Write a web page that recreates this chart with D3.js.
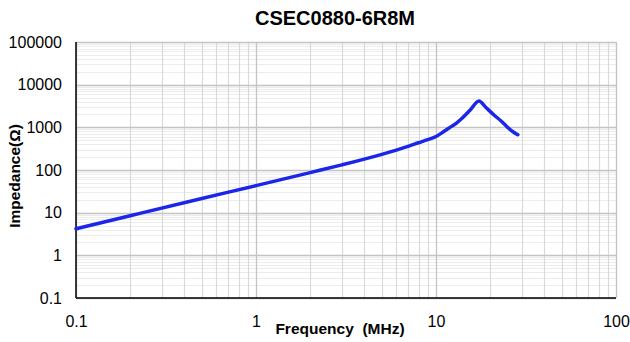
<!DOCTYPE html>
<html>
<head>
<meta charset="utf-8">
<script src="https://cdn.jsdelivr.net/npm/d3@7"></script>
<style>
html,body{margin:0;padding:0;background:#fff;}
svg{display:block;}
text{font-family:"Liberation Sans",Arial,sans-serif;white-space:pre;}
</style>
</head>
<body>
<svg id="chart" width="630" height="342"></svg>
<script>
const title = "CSEC0880-6R8M";
const xLabel = "Frequency  (MHz)";
const yLabel = "Impedance(Ω)";
const xTicks = [0.1, 1, 10, 100];
const xTickLabels = ["0.1", "1", "10", "100"];
const yTicks = [0.1, 1, 10, 100, 1000, 10000, 100000];
const yTickLabels = ["0.1", "1", "10", "100", "1000", "10000", "100000"];
const freq = [0.1, 0.2, 0.5, 1, 2, 3, 5, 7, 8, 9, 10, 11, 12, 13, 14, 15.5, 17.3, 19, 21, 23, 25, 27, 28.5];
const impedance = [4.2, 8.5, 21.5, 43, 87, 132, 233, 358, 435, 515, 610, 785, 1010, 1260, 1650, 2550, 4150, 2880, 1945, 1406, 1000, 764, 671];

const svg = d3.select("#chart");
const pL = 76, pR = 616, pT = 42, pB = 298;
const x = d3.scaleLog().domain([0.1, 100]).range([pL, pR]);
const y = d3.scaleLog().domain([0.1, 100000]).range([pB, pT]);

const minorX = [], minorY = [];
xTicks.slice(0, -1).forEach(d => { for (let k = 2; k <= 9; k++) minorX.push(d * k); });
yTicks.slice(0, -1).forEach(d => { for (let k = 2; k <= 9; k++) minorY.push(d * k); });

const g = svg.append("g");
g.selectAll(".hminor").data(minorY).enter().append("line")
  .attr("x1", pL).attr("x2", pR)
  .attr("y1", d => Math.round(y(d)) + 0.5).attr("y2", d => Math.round(y(d)) + 0.5)
  .attr("stroke", "#ececec").attr("stroke-width", 1);
g.selectAll(".vminor").data(minorX).enter().append("line")
  .attr("y1", pT).attr("y2", pB)
  .attr("x1", d => Math.round(x(d)) + 0.5).attr("x2", d => Math.round(x(d)) + 0.5)
  .attr("stroke", "#d9d9d9").attr("stroke-width", 1.2);
g.selectAll(".hmajor").data(yTicks).enter().append("line")
  .attr("x1", pL).attr("x2", pR)
  .attr("y1", d => Math.round(y(d)) + 0.5).attr("y2", d => Math.round(y(d)) + 0.5)
  .attr("stroke", "#c4c4c4").attr("stroke-width", 1.3);
g.selectAll(".vmajor").data(xTicks).enter().append("line")
  .attr("y1", pT).attr("y2", pB)
  .attr("x1", d => Math.round(x(d)) + 0.5).attr("x2", d => Math.round(x(d)) + 0.5)
  .attr("stroke", "#c4c4c4").attr("stroke-width", 1.3);

const xAxis = d3.axisBottom(x).tickValues(xTicks).tickFormat((d, i) => xTickLabels[i]).tickSize(0).tickPadding(18);
const yAxis = d3.axisLeft(y).tickValues(yTicks).tickFormat((d, i) => yTickLabels[i]).tickSize(0).tickPadding(14);
const gx = svg.append("g").attr("transform", `translate(0,${pB})`).call(xAxis);
const gy = svg.append("g").attr("transform", `translate(${pL},0)`).call(yAxis);
[gx, gy].forEach(a => {
  a.select(".domain").attr("stroke", "#000").attr("stroke-width", 1.5);
  a.selectAll("text").attr("font-size", 16).attr("fill", "#000").style("font-family", "'Liberation Sans',Arial,sans-serif");
});
gx.select(".domain").attr("d", `M${pL},0H${pR}`);
gy.select(".domain").attr("d", `M0,${pT}V${pB}`);

const line = d3.line().x((d, i) => x(freq[i])).y(d => y(d)).curve(d3.curveMonotoneX);
svg.append("path").datum(impedance).attr("d", line)
  .attr("fill", "none").attr("stroke", "#1c26e8").attr("stroke-width", 3.5)
  .attr("stroke-linejoin", "round").attr("stroke-linecap", "round");

svg.append("text").attr("x", 335).attr("y", 25).attr("text-anchor", "middle")
  .attr("font-size", 20).attr("font-weight", "bold").text(title);
svg.append("text").attr("x", 340).attr("y", 334).attr("text-anchor", "middle")
  .attr("font-size", 15.5).attr("font-weight", "bold").text(xLabel);
svg.append("text").attr("transform", "translate(20,176) rotate(-90)").attr("text-anchor", "middle")
  .attr("font-size", 15.5).attr("font-weight", "bold").text(yLabel);
</script>
</body>
</html>
